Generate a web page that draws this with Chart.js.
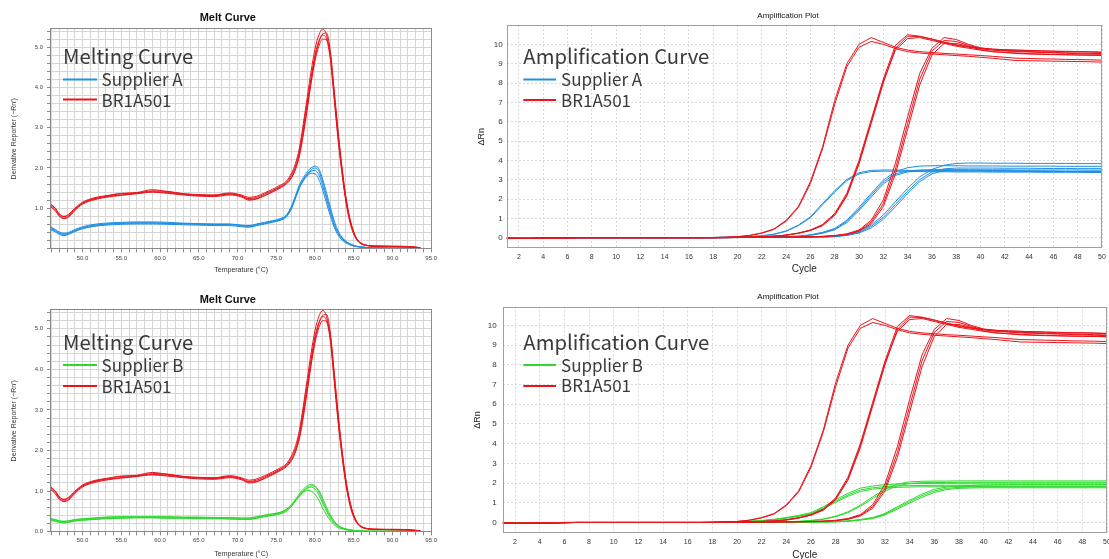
<!DOCTYPE html>
<html><head><meta charset="utf-8">
<script src="https://cdn.jsdelivr.net/npm/chart.js@4.4.1/dist/chart.umd.min.js"></script>
<style>
html,body{margin:0;padding:0;background:#fff;width:1109px;height:559px;overflow:hidden;position:relative;}
canvas{position:absolute;}
#ov{position:absolute;left:0;top:0;width:1109px;height:559px;pointer-events:none;}
#ov .lg{font-family:'Noto Sans CJK SC','Noto Sans',sans-serif;fill:#3a3a3a;}
#ov .tt{font-family:'Liberation Sans',Arial,sans-serif;fill:#111;}
</style></head><body>
<canvas id="c1" width="455" height="280" style="left:0;top:0;width:455px;height:280px"></canvas>
<canvas id="c2" width="660" height="280" style="left:470px;top:0;width:660px;height:280px"></canvas>
<canvas id="c3" width="455" height="285" style="left:0;top:280px;width:455px;height:285px"></canvas>
<canvas id="c4" width="680" height="290" style="left:470px;top:280px;width:680px;height:290px"></canvas>
<svg id="ov" width="1109" height="559" xmlns="http://www.w3.org/2000/svg">
  <text class="tt" x="227.8" y="20.5" text-anchor="middle" font-weight="bold" font-size="11">Melt Curve</text>
  <text class="lg" x="63" y="64" font-size="20.3">Melting Curve</text>
  <line x1="63" y1="79.5" x2="97" y2="79.5" stroke="#1f8fe3" stroke-width="2"/>
  <text class="lg" x="101.5" y="85.5" font-size="17">Supplier A</text>
  <line x1="63" y1="99.5" x2="97" y2="99.5" stroke="#e8141c" stroke-width="2"/>
  <text class="lg" x="101.5" y="107" font-size="17">BR1A501</text>

  <text class="tt" x="227.8" y="302.7" text-anchor="middle" font-weight="bold" font-size="11">Melt Curve</text>
  <text class="lg" x="63" y="350" font-size="20.3">Melting Curve</text>
  <line x1="63" y1="365" x2="97" y2="365" stroke="#2fd82f" stroke-width="2"/>
  <text class="lg" x="101.5" y="371.7" font-size="17">Supplier B</text>
  <line x1="63" y1="386" x2="97" y2="386" stroke="#e8141c" stroke-width="2"/>
  <text class="lg" x="101.5" y="392.5" font-size="17">BR1A501</text>

  <text class="tt" x="788" y="17.5" text-anchor="middle" font-size="8">Amplification Plot</text>
  <text class="lg" x="523.3" y="64" font-size="20.3">Amplification Curve</text>
  <line x1="523.3" y1="79.5" x2="556" y2="79.5" stroke="#1f8fe3" stroke-width="2"/>
  <text class="lg" x="561" y="86" font-size="17">Supplier A</text>
  <line x1="523.3" y1="100" x2="556" y2="100" stroke="#e8141c" stroke-width="2"/>
  <text class="lg" x="561" y="107.3" font-size="17">BR1A501</text>

  <text class="tt" x="788" y="298.5" text-anchor="middle" font-size="8">Amplification Plot</text>
  <text class="lg" x="523.3" y="350" font-size="20.3">Amplification Curve</text>
  <line x1="523.3" y1="365" x2="556" y2="365" stroke="#2fd82f" stroke-width="2"/>
  <text class="lg" x="561" y="371.7" font-size="17">Supplier B</text>
  <line x1="523.3" y1="386" x2="556" y2="386" stroke="#e8141c" stroke-width="2"/>
  <text class="lg" x="561" y="392.3" font-size="17">BR1A501</text>
</svg>
<script>
// ---------------- Melt curve data (derivative reporter vs temperature) ----------------
const meltTemp = [45.8,46.5,47,47.6,48.2,49, 50,51.5,53,55,57,59,61,63,65,67,69, 70.5,71.5,72.5,73.5,74.5,75.5,76.3, 77,77.5,78,78.5,79,79.5,80,80.5,81,81.5,82,82.5,83,83.5,84,84.5,85,85.5,86, 87,88,90,92,93.6];

const meltRedA = [1.12,1.0,0.86,0.8,0.85,1.0, 1.15,1.26,1.31,1.36,1.39,1.46,1.41,1.36,1.34,1.33,1.38, 1.33,1.27,1.3,1.38,1.47,1.57,1.67, 1.88,2.12,2.5,3.1,3.75,4.4,4.95,5.3,5.45,5.3,4.75,3.75,2.75,1.9,1.2,0.7,0.38,0.2,0.12, 0.07,0.06,0.06,0.05,0.02];
const meltRedB = [1.08,0.96,0.82,0.76,0.8,0.96, 1.12,1.23,1.29,1.33,1.37,1.41,1.39,1.34,1.32,1.31,1.35, 1.3,1.24,1.27,1.35,1.44,1.54,1.64, 1.83,2.05,2.42,3.0,3.62,4.25,4.8,5.15,5.3,5.2,4.68,3.68,2.68,1.85,1.15,0.66,0.36,0.19,0.11, 0.06,0.05,0.05,0.04,0.02];
const meltRedC = [1.1,0.99,0.85,0.79,0.83,0.98, 1.13,1.24,1.3,1.37,1.38,1.43,1.42,1.36,1.33,1.32,1.36, 1.31,1.22,1.24,1.32,1.42,1.52,1.62, 1.78,1.98,2.3,2.82,3.45,4.1,4.65,5.02,5.2,5.18,4.8,3.85,2.85,1.98,1.25,0.74,0.4,0.21,0.12, 0.07,0.06,0.05,0.05,0.02];
const meltRedD = [1.05,0.93,0.8,0.74,0.78,0.94, 1.1,1.21,1.27,1.32,1.36,1.4,1.37,1.33,1.3,1.29,1.33, 1.28,1.2,1.23,1.31,1.4,1.5,1.6, 1.76,1.98,2.35,2.9,3.5,4.15,4.72,5.12,5.33,5.35,4.88,3.9,2.9,2.0,1.28,0.76,0.42,0.22,0.13, 0.07,0.06,0.05,0.04,0.02];

const meltBlueA = [0.52,0.45,0.39,0.36,0.38,0.45, 0.52,0.58,0.61,0.63,0.64,0.64,0.63,0.62,0.61,0.6,0.6, 0.57,0.56,0.6,0.64,0.68,0.73,0.82, 1.05,1.3,1.55,1.72,1.85,1.95,2.0,1.92,1.65,1.3,0.95,0.62,0.4,0.26,0.17,0.11,0.07,0.05,0.04, 0.02,0.02,0.01,0.01,0.01];
const meltBlueB = [0.5,0.43,0.37,0.34,0.36,0.43, 0.5,0.56,0.6,0.62,0.63,0.63,0.62,0.61,0.6,0.59,0.59, 0.56,0.54,0.58,0.62,0.66,0.71,0.79, 1.0,1.25,1.5,1.68,1.8,1.87,1.86,1.72,1.45,1.12,0.8,0.52,0.33,0.21,0.14,0.09,0.06,0.04,0.03, 0.02,0.01,0.01,0.01,0.01];
const meltBlueC = [0.55,0.47,0.41,0.38,0.4,0.47, 0.54,0.6,0.63,0.65,0.66,0.66,0.65,0.63,0.62,0.61,0.61, 0.58,0.57,0.61,0.65,0.69,0.74,0.83, 1.06,1.32,1.58,1.76,1.9,2.0,2.05,1.98,1.72,1.38,1.02,0.68,0.44,0.28,0.18,0.12,0.08,0.05,0.04, 0.02,0.02,0.01,0.01,0.01];
const meltBlueD = [0.48,0.41,0.35,0.32,0.35,0.42, 0.49,0.55,0.58,0.6,0.61,0.61,0.6,0.59,0.58,0.57,0.57, 0.54,0.53,0.57,0.61,0.65,0.7,0.78, 1.02,1.28,1.52,1.7,1.83,1.92,1.94,1.83,1.56,1.22,0.88,0.57,0.37,0.24,0.16,0.1,0.07,0.05,0.03, 0.02,0.01,0.01,0.01,0.01];

const meltGreenA = [0.32,0.29,0.26,0.25,0.26,0.29, 0.31,0.33,0.35,0.36,0.36,0.36,0.36,0.35,0.35,0.34,0.34, 0.33,0.33,0.36,0.4,0.43,0.47,0.55, 0.68,0.8,0.93,1.05,1.13,1.17,1.12,0.98,0.76,0.54,0.36,0.23,0.14,0.09,0.06,0.04,0.03,0.02,0.02, 0.01,0.01,0.01,0.01,0.01];
const meltGreenB = [0.3,0.27,0.24,0.23,0.24,0.27, 0.29,0.31,0.33,0.34,0.35,0.35,0.34,0.34,0.33,0.33,0.32, 0.31,0.31,0.34,0.38,0.41,0.45,0.52, 0.64,0.76,0.88,0.99,1.07,1.1,1.05,0.91,0.7,0.5,0.33,0.21,0.13,0.08,0.05,0.04,0.03,0.02,0.02, 0.01,0.01,0.01,0.01,0.01];
const meltGreenC = [0.28,0.25,0.23,0.22,0.23,0.26, 0.28,0.3,0.32,0.33,0.34,0.34,0.33,0.33,0.32,0.32,0.31, 0.3,0.3,0.33,0.37,0.4,0.44,0.5, 0.63,0.76,0.88,0.97,1.02,1.0,0.92,0.78,0.58,0.41,0.27,0.17,0.1,0.07,0.05,0.03,0.02,0.02,0.01, 0.01,0.01,0.01,0.01,0.01];
const meltGreenD = [0.33,0.3,0.27,0.26,0.27,0.3, 0.32,0.34,0.36,0.37,0.37,0.37,0.37,0.36,0.36,0.35,0.35, 0.34,0.34,0.37,0.41,0.44,0.48,0.55, 0.66,0.77,0.9,1.01,1.09,1.13,1.12,1.02,0.82,0.6,0.41,0.26,0.16,0.1,0.07,0.05,0.03,0.02,0.02, 0.01,0.01,0.01,0.01,0.01];

const meltXLabels = [50,55,60,65,70,75,80,85,90,95];
const meltYLabelsTop = [1,2,3,4,5];
const meltYLabelsBottom = [0,1,2,3,4,5];

// ---------------- Amplification data (ΔRn vs cycle) ----------------
const cycles = [1,2,3,4,5,6,7,8,9,10,11,12,13,14,15,16,17,18,19,20,21,22,23,24,25,26,27,28,29,30,31,32,33,34,35,36,37,38,39,40,41,42,43,44,45,46,47,48,49,50];

const ampRed1a = [-0.03,-0.04,-0.04,-0.03,-0.02,-0.01,0,0,0,0,0,0,0,0,0,0,0, 0.01,0.02,0.05,0.12,0.25,0.45,0.9,1.6,2.9,4.7,7.1,9.0,10.0,10.35,10.1,9.85,9.7,9.62,9.58,9.53,9.5,9.46,9.42,9.38,9.33,9.28,9.27,9.25,9.24,9.22,9.21,9.2,9.18];
const ampRed1b = [-0.03,-0.04,-0.04,-0.03,-0.02,-0.01,0,0,0,0,0,0,0,0,0,0,0, 0.01,0.02,0.05,0.11,0.23,0.43,0.85,1.55,2.8,4.6,6.9,8.85,9.85,10.15,10.0,9.78,9.62,9.55,9.5,9.46,9.42,9.38,9.33,9.28,9.22,9.16,9.15,9.14,9.13,9.12,9.11,9.1,9.08];
const ampRed2a = [-0.03,-0.04,-0.04,-0.03,-0.02,-0.01,0,0,0,0,0,0,0,0,0,0,0, 0,0.01,0.02,0.03,0.05,0.08,0.14,0.24,0.4,0.68,1.25,2.3,4.0,6.1,8.2,9.95,10.5,10.42,10.28,10.12,9.98,9.88,9.8,9.75,9.72,9.7,9.68,9.66,9.64,9.62,9.61,9.6,9.58];
const ampRed2b = [-0.03,-0.04,-0.04,-0.03,-0.02,-0.01,0,0,0,0,0,0,0,0,0,0,0, 0,0.01,0.02,0.03,0.05,0.07,0.12,0.22,0.37,0.62,1.15,2.15,3.8,5.9,8.0,9.8,10.42,10.4,10.25,10.1,9.95,9.85,9.78,9.72,9.68,9.65,9.63,9.6,9.58,9.56,9.55,9.53,9.52];
const ampRed2c = [-0.03,-0.04,-0.04,-0.03,-0.02,-0.01,0,0,0,0,0,0,0,0,0,0,0, 0,0.01,0.02,0.03,0.05,0.08,0.13,0.23,0.38,0.65,1.2,2.2,3.9,6.0,8.1,9.7,10.3,10.35,10.2,10.05,9.9,9.8,9.7,9.62,9.58,9.52,9.5,9.48,9.47,9.46,9.45,9.44,9.43];
const ampRed3a = [-0.03,-0.04,-0.04,-0.03,-0.02,-0.01,0,0,0,0,0,0,0,0,0,0,0, 0,0,0.01,0.01,0.02,0.02,0.03,0.04,0.05,0.07,0.11,0.2,0.4,0.9,1.95,3.85,6.25,8.5,9.8,10.35,10.25,10.0,9.82,9.75,9.72,9.7,9.68,9.66,9.65,9.64,9.63,9.62,9.6];
const ampRed3b = [-0.03,-0.04,-0.04,-0.03,-0.02,-0.01,0,0,0,0,0,0,0,0,0,0,0, 0,0,0.01,0.01,0.02,0.02,0.03,0.04,0.05,0.06,0.1,0.18,0.36,0.8,1.75,3.55,5.9,8.2,9.65,10.2,10.15,9.95,9.78,9.7,9.66,9.62,9.6,9.58,9.56,9.54,9.52,9.5,9.48];
const ampRed3c = [-0.03,-0.04,-0.04,-0.03,-0.02,-0.01,0,0,0,0,0,0,0,0,0,0,0, 0,0,0.01,0.01,0.01,0.02,0.03,0.03,0.04,0.06,0.09,0.16,0.33,0.72,1.6,3.3,5.6,7.9,9.45,10.05,10.05,9.9,9.72,9.62,9.58,9.55,9.52,9.5,9.48,9.46,9.45,9.44,9.42];

const ampBlue1a = [-0.02,-0.02,-0.02,-0.02,-0.01,0,0,0,0,0,0,0,0,0,0,0,0, 0.01,0.02,0.03,0.05,0.1,0.18,0.35,0.65,1.08,1.77,2.43,3.01,3.36,3.48,3.5,3.5,3.48,3.47,3.46,3.46,3.45,3.45,3.45,3.45,3.44,3.44,3.44,3.44,3.44,3.43,3.43,3.43,3.43];
const ampBlue1b = [-0.02,-0.02,-0.02,-0.02,-0.01,0,0,0,0,0,0,0,0,0,0,0,0, 0.01,0.02,0.03,0.05,0.09,0.17,0.33,0.62,1.03,1.7,2.36,2.95,3.3,3.42,3.44,3.44,3.43,3.42,3.41,3.41,3.4,3.4,3.4,3.39,3.39,3.39,3.39,3.38,3.38,3.38,3.38,3.37,3.37];
const ampBlue2a = [-0.02,-0.02,-0.02,-0.02,-0.01,0,0,0,0,0,0,0,0,0,0,0,0, 0,0.01,0.01,0.02,0.02,0.03,0.05,0.08,0.15,0.28,0.48,0.9,1.57,2.29,2.98,3.41,3.62,3.7,3.72,3.72,3.72,3.71,3.71,3.71,3.7,3.7,3.7,3.7,3.7,3.69,3.69,3.69,3.69];
const ampBlue2b = [-0.02,-0.02,-0.02,-0.02,-0.01,0,0,0,0,0,0,0,0,0,0,0,0, 0,0.01,0.01,0.02,0.02,0.03,0.04,0.07,0.13,0.25,0.44,0.84,1.48,2.2,2.88,3.3,3.45,3.5,3.52,3.52,3.52,3.51,3.51,3.51,3.51,3.5,3.5,3.5,3.5,3.5,3.5,3.49,3.49];
const ampBlue2c = [-0.02,-0.02,-0.02,-0.02,-0.01,0,0,0,0,0,0,0,0,0,0,0,0, 0,0.01,0.01,0.01,0.02,0.03,0.04,0.07,0.12,0.23,0.41,0.78,1.4,2.1,2.78,3.22,3.4,3.45,3.46,3.46,3.45,3.45,3.44,3.44,3.44,3.43,3.43,3.43,3.42,3.42,3.42,3.42,3.41];
const ampBlue3a = [-0.02,-0.02,-0.02,-0.02,-0.01,0,0,0,0,0,0,0,0,0,0,0,0, 0,0,0.01,0.01,0.01,0.01,0.01,0.02,0.02,0.04,0.08,0.15,0.31,0.65,1.17,1.86,2.55,3.15,3.53,3.75,3.84,3.86,3.86,3.85,3.85,3.85,3.84,3.84,3.84,3.84,3.83,3.83,3.83];
const ampBlue3b = [-0.02,-0.02,-0.02,-0.02,-0.01,0,0,0,0,0,0,0,0,0,0,0,0, 0,0,0.01,0.01,0.01,0.01,0.01,0.02,0.02,0.03,0.07,0.13,0.27,0.58,1.05,1.72,2.4,3.0,3.4,3.56,3.6,3.6,3.6,3.6,3.59,3.59,3.59,3.58,3.58,3.58,3.57,3.57,3.57];
const ampBlue3c = [-0.02,-0.02,-0.02,-0.02,-0.01,0,0,0,0,0,0,0,0,0,0,0,0, 0,0,0,0.01,0.01,0.01,0.01,0.01,0.02,0.03,0.06,0.11,0.24,0.5,0.95,1.6,2.28,2.9,3.3,3.47,3.5,3.5,3.49,3.48,3.47,3.46,3.45,3.44,3.43,3.42,3.41,3.4,3.38];

const ampGreen1a = [-0.01,-0.01,-0.02,-0.02,-0.01,0,0,0,0,0,0,0,0,0,0,0,0, 0.01,0.02,0.04,0.06,0.1,0.16,0.25,0.36,0.5,0.8,1.15,1.48,1.74,1.85,1.92,1.95,1.97,1.98,1.98,1.99,1.99,1.99,2.0,2.0,2.0,2.0,2.0,2.0,2.0,2.0,2.0,2.0,2.0];
const ampGreen1b = [-0.01,-0.01,-0.02,-0.02,-0.01,0,0,0,0,0,0,0,0,0,0,0,0, 0.01,0.02,0.04,0.06,0.09,0.15,0.23,0.33,0.46,0.74,1.08,1.4,1.65,1.76,1.82,1.85,1.87,1.88,1.88,1.89,1.89,1.89,1.9,1.9,1.9,1.9,1.9,1.9,1.9,1.9,1.9,1.9,1.9];
const ampGreen1c = [-0.01,-0.01,-0.02,-0.02,-0.01,0,0,0,0,0,0,0,0,0,0,0,0, 0.01,0.02,0.03,0.05,0.08,0.14,0.21,0.31,0.43,0.7,1.02,1.33,1.57,1.69,1.75,1.78,1.8,1.81,1.81,1.82,1.82,1.82,1.82,1.82,1.82,1.82,1.82,1.82,1.82,1.82,1.82,1.82,1.82];
const ampGreen2a = [-0.01,-0.01,-0.02,-0.02,-0.01,0,0,0,0,0,0,0,0,0,0,0,0, 0,0.01,0.01,0.02,0.02,0.03,0.04,0.06,0.1,0.18,0.32,0.54,0.88,1.3,1.68,1.95,2.06,2.09,2.1,2.1,2.11,2.11,2.11,2.11,2.11,2.11,2.11,2.11,2.11,2.11,2.11,2.11,2.11];
const ampGreen2b = [-0.01,-0.01,-0.02,-0.02,-0.01,0,0,0,0,0,0,0,0,0,0,0,0, 0,0.01,0.01,0.01,0.02,0.03,0.04,0.05,0.09,0.16,0.29,0.5,0.82,1.22,1.6,1.86,1.98,2.02,2.03,2.03,2.04,2.04,2.04,2.04,2.04,2.04,2.04,2.04,2.04,2.04,2.04,2.04,2.04];
const ampGreen3a = [-0.01,-0.01,-0.02,-0.02,-0.01,0,0,0,0,0,0,0,0,0,0,0,0, 0,0,0,0.01,0.01,0.01,0.01,0.02,0.02,0.03,0.04,0.08,0.15,0.25,0.46,0.8,1.13,1.44,1.68,1.8,1.85,1.88,1.9,1.91,1.92,1.92,1.92,1.92,1.92,1.92,1.92,1.92,1.92];
const ampGreen3b = [-0.01,-0.01,-0.02,-0.02,-0.01,0,0,0,0,0,0,0,0,0,0,0,0, 0,0,0,0.01,0.01,0.01,0.01,0.01,0.02,0.03,0.04,0.07,0.13,0.22,0.42,0.74,1.06,1.36,1.6,1.73,1.78,1.8,1.81,1.81,1.81,1.81,1.81,1.81,1.81,1.81,1.81,1.81,1.81];
const ampGreen3c = [-0.01,-0.01,-0.02,-0.02,-0.01,0,0,0,0,0,0,0,0,0,0,0,0, 0,0,0,0,0.01,0.01,0.01,0.01,0.02,0.02,0.03,0.06,0.12,0.2,0.38,0.68,0.99,1.28,1.52,1.67,1.73,1.75,1.76,1.76,1.76,1.76,1.76,1.76,1.76,1.76,1.76,1.76,1.76];

const ampXLabels = [2,4,6,8,10,12,14,16,18,20,22,24,26,28,30,32,34,36,38,40,42,44,46,48,50];
const ampYLabels = [0,1,2,3,4,5,6,7,8,9,10];

// ---------------- colours ----------------
const RED = '#e8141c', BLUE = '#1f8fe3', GREEN = '#2fd82f';

// ---------------- helpers ----------------
Chart.defaults.font.family = "'Liberation Sans', Arial, sans-serif";
const pts = (xs, ys) => xs.map((x, i) => ({x, y: ys[i]}));
const ds = (xs, ys, color) => ({data: pts(xs, ys), borderColor: color, backgroundColor: color, borderWidth: 1, pointRadius: 0, fill: false});

const frame = {
  id: 'frame',
  afterDatasetsDraw(chart, args, o) {
    const {ctx, chartArea: a} = chart;
    const l = Math.round(a.left) + 0.5, t = Math.round(a.top) + 0.5;
    const r = Math.round(a.right) - 0.5, b = Math.round(a.bottom) - 0.5;
    ctx.save();
    ctx.strokeStyle = o.color || '#999';
    ctx.lineWidth = 1;
    ctx.strokeRect(l, t, r - l, b - t);
    ctx.restore();
  }
};

// gridline positions (1 °C and 0.2 units)
const meltGridX = []; for (let t = 46; t <= 95; t++) meltGridX.push(t);
const meltGridY = []; for (let i = 0; i <= 27; i++) meltGridY.push(i / 5);

function makeMelt(id, datasets, box, yLabels) {
  return new Chart(document.getElementById(id), {
    type: 'line',
    data: {datasets},
    options: {
      responsive: false, animation: false, events: [],
      layout: {padding: {left: 0, top: box.top, right: box.right, bottom: 0}},
      plugins: {legend: {display: false}, tooltip: {enabled: false}, title: {display: false}, frame: {color: '#8a8a8a'}},
      elements: {line: {cubicInterpolationMode: 'monotone'}},
      scales: {
        x: {
          type: 'linear', min: 45.8, max: 95.15,
          afterBuildTicks: s => { s.ticks = meltGridX.map(v => ({value: v})); },
          afterFit: s => { s.height = box.xh; },
          grid: {color: '#d6d6d6', lineWidth: 1, drawTicks: true, tickLength: 3, tickColor: '#8a8a8a'},
          border: {display: false},
          ticks: {autoSkip: false, maxRotation: 0, padding: box.xpad, color: '#444', font: {size: 6},
                  callback: v => meltXLabels.includes(v) ? v.toFixed(1) : ''},
          title: {display: true, text: 'Temperature (°C)', color: '#333', font: {size: 7}, padding: {top: 0, bottom: box.xtb}}
        },
        y: {
          type: 'linear', min: box.ymin, max: box.ymax,
          afterBuildTicks: s => { s.ticks = meltGridY.map(v => ({value: v})); },
          afterFit: s => { s.width = box.yw; },
          grid: {color: '#d6d6d6', lineWidth: 1, drawTicks: true, tickLength: 3, tickColor: '#8a8a8a'},
          border: {display: false},
          ticks: {autoSkip: false, padding: 4, color: '#444', font: {size: 6},
                  callback: v => yLabels.includes(v) ? v.toFixed(1) : ''},
          title: {display: true, text: 'Derivative Reporter (−Rn′)', color: '#333', font: {size: 7}, padding: {top: box.ytp, bottom: 0}}
        }
      }
    },
    plugins: [frame]
  });
}

function makeAmp(id, datasets, box) {
  return new Chart(document.getElementById(id), {
    type: 'line',
    data: {datasets},
    options: {
      responsive: false, animation: false, events: [],
      layout: {padding: {left: 0, top: box.top, right: box.right, bottom: 0}},
      plugins: {legend: {display: false}, tooltip: {enabled: false}, title: {display: false}, frame: {color: '#a0a0a0'}},
      elements: {line: {tension: 0}},
      scales: {
        x: {
          type: 'linear', min: 1, max: 50,
          afterBuildTicks: s => { s.ticks = ampXLabels.map(v => ({value: v})); },
          afterFit: s => { s.height = box.xh; },
          grid: {color: '#d9d9d9', lineWidth: 1, drawTicks: false},
          border: {display: false, dash: [2, 2]},
          ticks: {autoSkip: false, maxRotation: 0, padding: box.xpad, color: '#333', font: {size: 7}},
          title: {display: true, text: 'Cycle', color: '#222', font: {size: 10}, padding: {top: 0, bottom: box.xtb}}
        },
        y: {
          type: 'linear', min: -0.55, max: box.ymax,
          afterBuildTicks: s => { s.ticks = ampYLabels.map(v => ({value: v})); },
          afterFit: s => { s.width = box.yw; },
          grid: {color: '#d9d9d9', lineWidth: 1, drawTicks: false},
          border: {display: false, dash: [2, 2]},
          ticks: {autoSkip: false, padding: box.ypad, color: '#333', font: {size: 8}},
          title: {display: true, text: 'ΔRn', color: '#222', font: {size: 9}, padding: {top: box.ytp, bottom: 0}}
        }
      }
    },
    plugins: [frame]
  });
}

// ---------------- build charts ----------------
const redMelt = [meltRedA, meltRedB, meltRedC, meltRedD].map(a => ds(meltTemp, a, RED));

makeMelt('c1',
  [...redMelt, ...[meltBlueA, meltBlueB, meltBlueC, meltBlueD].map(a => ds(meltTemp, a, BLUE))],
  {top: 28.3, right: 22.7, xh: 30.7, yw: 50, xpad: 2.4, xtb: 5.8, ytp: 9.8, ymin: -0.02, ymax: 5.47},
  meltYLabelsTop);

makeMelt('c3',
  [...[meltRedA, meltRedB, meltRedC, meltRedD].map(a => ds(meltTemp, a, RED)),
   ...[meltGreenA, meltGreenB, meltGreenC, meltGreenD].map(a => ds(meltTemp, a, GREEN))],
  {top: 29.3, right: 22.7, xh: 32.7, yw: 50, xpad: 1.8, xtb: 6.8, ytp: 9.8, ymin: -0.015, ymax: 5.48},
  meltYLabelsBottom);

const redAmp = () => [ampRed1a, ampRed1b, ampRed2a, ampRed2b, ampRed2c, ampRed3a, ampRed3b, ampRed3c].map(a => ds(cycles, a, RED));

makeAmp('c2',
  [...redAmp(), ...[ampBlue1a, ampBlue1b, ampBlue2a, ampBlue2b, ampBlue2c, ampBlue3a, ampBlue3b, ampBlue3c].map(a => ds(cycles, a, BLUE))],
  {top: 25, right: 28, xh: 31.7, yw: 36.7, xpad: 4.2, xtb: 4.7, ytp: 6.6, ypad: 4, ymax: 11});

makeAmp('c4',
  [...redAmp(), ...[ampGreen1a, ampGreen1b, ampGreen1c, ampGreen2a, ampGreen2b, ampGreen3a, ampGreen3b, ampGreen3c].map(a => ds(cycles, a, GREEN))],
  {top: 26.7, right: 43, xh: 36.7, yw: 32.7, xpad: 4.2, xtb: 9, ytp: 2.6, ypad: 6, ymax: 10.95});
</script>
</body></html>
